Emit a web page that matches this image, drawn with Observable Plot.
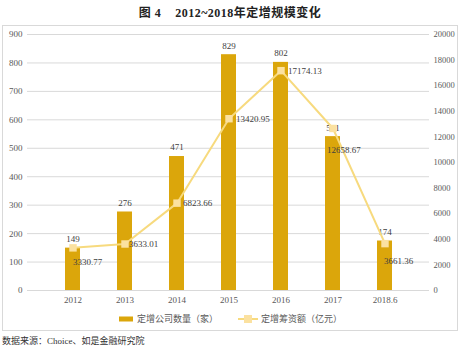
<!DOCTYPE html>
<html><head><meta charset="utf-8">
<script src="https://cdn.jsdelivr.net/npm/d3@7"></script>
<script src="https://cdn.jsdelivr.net/npm/@observablehq/plot@0.6"></script>
<style>
body{margin:0;width:460px;height:348px;background:#fff;position:relative;overflow:hidden;font-family:"Liberation Serif","DejaVu Serif",serif;}
#title{position:absolute;left:0;top:3px;width:460px;text-align:center;font-size:12px;font-weight:bold;color:#222;font-family:"Liberation Serif","Noto Sans CJK SC",serif;letter-spacing:0.5px;}
#box{position:absolute;left:2px;top:25px;width:454px;height:304px;border:1px solid #d9d9d9;}
#chart{position:absolute;left:0;top:0;}
#chart svg{overflow:visible;}
#legend{position:absolute;left:0;top:286px;width:454px;display:flex;justify-content:center;align-items:center;font-size:9px;color:#595959;font-family:"Liberation Serif","Noto Sans CJK SC",serif;}
.sw{display:inline-block;}
#caption{position:absolute;left:2px;top:334px;font-size:9px;color:#333;font-family:"Liberation Serif","Noto Sans CJK SC",serif;}
</style></head>
<body>
<div id="title">图 4&nbsp;&nbsp;&nbsp;&nbsp;2012~2018年定增规模变化</div>
<div id="box"><div id="chart"></div>
<div id="legend">
<svg class="sw" width="16" height="8"><rect x="1" y="1.5" width="14" height="5" fill="#DBA60B"></rect></svg>
<span style="margin-left:3px;margin-right:20px">定增公司数量（家）</span>
<svg class="sw" width="20" height="10"><line x1="0" y1="5" x2="20" y2="5" stroke="#F7DA7E" stroke-width="2"></line><rect x="6" y="1" width="8" height="8" fill="#FBE1A0"></rect></svg>
<span style="margin-left:3px">定增筹资额（亿元）</span>
</div></div>
<div id="caption">数据来源：Choice、如是金融研究院</div>
<script>
const years = ["2012","2013","2014","2015","2016","2017","2018.6"];
const counts = [149,276,471,829,802,541,174];
const amounts = [3330.77,3633.01,6823.66,13420.95,17174.13,12658.67,3661.36];
const leftTicks = [0,100,200,300,400,500,600,700,800,900];
const rightTicks = [0,2000,4000,6000,8000,10000,12000,14000,16000,18000,20000];

const k = 900/20000; // right axis mapped onto left scale
const rows = years.map((y,i)=>({year:y,count:counts[i],amount:amounts[i],a:amounts[i]*k}));

// label offsets (layout only)
const amtOffsets = [[0,14,"start"],[4,0,"start"],[6,0,"start"],[7,0,"start"],[7,0,"start"],[-6,22,"start"],[-1,17,"start"]];

const barColor = "#DBA60B", lineColor = "#F7DA7E", markColor = "#FBE1A0";

const marks = [
  Plot.ruleY(leftTicks, {stroke:"#d9d9d9", strokeWidth:1}),
  Plot.axisY(leftTicks, {anchor:"left", tickSize:0, tickPadding:5, fill:"#595959", label:null}),
  Plot.axisY(rightTicks.map(v=>v*k), {anchor:"right", tickSize:0, tickPadding:4, fill:"#595959", label:null, fontSize:8.5, tickFormat:d=>String(Math.round(d/k))}),
  Plot.axisX({tickSize:0, tickPadding:6, fill:"#595959", label:null}),
  Plot.barY(rows, {x:"year", y:"count", fill:barColor}),
  Plot.text(rows, {x:"year", y:"count", text:d=>String(d.count), dy:-9, fill:"#404040"}),
  Plot.line(rows, {x:"year", y:"a", stroke:lineColor, strokeWidth:2}),
  Plot.dot(rows, {x:"year", y:"a", symbol:"square", r:4.2, fill:markColor, stroke:null}),
  ...rows.map((d,i)=>Plot.text([d], {x:"year", y:"a", text:r=>r.amount.toFixed(2), dx:amtOffsets[i][0], dy:amtOffsets[i][1], textAnchor:amtOffsets[i][2], fill:"#404040"}))
];

const plot = Plot.plot({
  width:454, height:282,
  marginTop:8, marginBottom:18, marginLeft:24, marginRight:28,
  style:{fontFamily:"'Liberation Serif','DejaVu Serif',serif", fontSize:"9px", background:"transparent"},
  x:{domain:years, padding:0.72, type:"band"},
  y:{domain:[0,900]},
  marks
});
document.getElementById("chart").appendChild(plot);
</script>
</body></html>
